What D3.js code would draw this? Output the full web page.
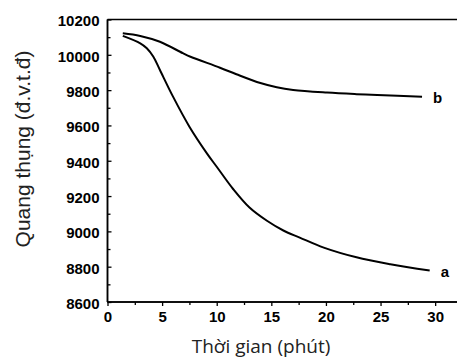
<!DOCTYPE html>
<html>
<head>
<meta charset="utf-8">
<script src="https://cdn.jsdelivr.net/npm/d3@7"></script>
<style>
  html, body { margin: 0; padding: 0; background: #fff; }
  svg { display: block; }
</style>
</head>
<body>
<svg id="chart" width="457" height="358"></svg>
<script>
// Time (minutes) and measured values for the two curves
const timeA = [1.4, 3.0, 3.6, 4.2, 4.8, 6.0, 7.5, 9.1, 10.0, 11.5, 13.0, 14.6, 16.1, 17.6, 19.8, 22.8, 25.9, 29.5];
const valuesA = [10107, 10065, 10037, 9989, 9914, 9763, 9593, 9442, 9366, 9240, 9135, 9060, 9005, 8965, 8908, 8853, 8814, 8778];
const timeB = [1.4, 3.0, 4.8, 6.9, 7.6, 10.3, 11.8, 14.0, 15.5, 17.0, 20.1, 22.8, 24.7, 28.8];
const valuesB = [10122, 10107, 10074, 10009, 9989, 9927, 9890, 9840, 9816, 9801, 9786, 9777, 9772, 9763];
const seriesNames = ["a", "b"];

const xTicks = [0, 5, 10, 15, 20, 25, 30];
const xMinorTicks = [2.5, 7.5, 12.5, 17.5, 22.5, 27.5];
const yTicks = [8600, 8800, 9000, 9200, 9400, 9600, 9800, 10000, 10200];
const yMinorTicks = [8700, 8900, 9100, 9300, 9500, 9700, 9900, 10100];

const xTitle = "Thời gian (phút)";
const yTitle = "Quang thụng (đ.v.t.đ)";

const svg = d3.select("#chart");
const plotLeft = 107.5, plotRight = 457, plotTop = 19.5, plotBottom = 302;

const x = d3.scaleLinear().domain([0, 32]).range([plotLeft, plotRight]);
const y = d3.scaleLinear().domain([8600, 10200]).range([plotBottom, plotTop]);

const tickFont = "'Liberation Sans', Arial, sans-serif";

// Frame: top border line
svg.append("line")
  .attr("x1", plotLeft).attr("x2", plotRight)
  .attr("y1", plotTop).attr("y2", plotTop)
  .attr("stroke", "#000").attr("stroke-width", 1.5);

// X axis
const xAxis = svg.append("g")
  .attr("transform", `translate(0,${plotBottom})`)
  .call(d3.axisBottom(x).tickValues(xTicks).tickSize(4).tickPadding(5).tickFormat(d3.format("d")));
xAxis.append("g")
  .call(d3.axisBottom(x).tickValues(xMinorTicks).tickSize(3).tickFormat(""));
xAxis.selectAll(".domain").attr("d", `M${plotLeft},0H${plotRight}`).attr("stroke-width", 1.5);

// Y axis (ticks point inward)
const yAxis = svg.append("g")
  .attr("transform", `translate(${plotLeft},0)`)
  .call(d3.axisLeft(y).tickValues(yTicks).tickSize(-4).tickPadding(8).tickFormat(d3.format("d")));
yAxis.append("g")
  .call(d3.axisLeft(y).tickValues(yMinorTicks).tickSize(-3).tickFormat(""));
yAxis.selectAll(".domain").attr("d", `M0,${plotTop}V${plotBottom}`).attr("stroke-width", 1.5);

svg.selectAll(".tick line").attr("stroke", "#000").attr("stroke-width", 1.3);
svg.selectAll(".tick text")
  .attr("font-family", tickFont)
  .attr("font-weight", "bold")
  .attr("font-size", 15)
  .attr("fill", "#000");
yAxis.selectAll(".tick text").attr("text-anchor", "end").attr("dy", "0.42em");

// Curves
const line = d3.line()
  .x(d => x(d[0]))
  .y(d => y(d[1]))
  .curve(d3.curveCatmullRom.alpha(0.5));

const dataA = d3.zip(timeA, valuesA);
const dataB = d3.zip(timeB, valuesB);

[dataA, dataB].forEach(data => {
  svg.append("path")
    .datum(data)
    .attr("d", line)
    .attr("fill", "none")
    .attr("stroke", "#000")
    .attr("stroke-width", 2);
});

// Curve labels at the line ends
[dataA, dataB].forEach((data, i) => {
  const last = data[data.length - 1];
  svg.append("text")
    .attr("x", x(last[0]) + 11)
    .attr("y", y(last[1]))
    .attr("dy", "0.4em")
    .attr("font-family", tickFont)
    .attr("font-weight", "bold")
    .attr("font-size", 15)
    .text(seriesNames[i]);
});

// Axis titles
svg.append("text")
  .attr("x", 261)
  .attr("y", 353)
  .attr("text-anchor", "middle")
  .attr("font-family", "'Open Sans', sans-serif")
  .attr("font-size", 19)
  .attr("fill", "#222")
  .text(xTitle);

svg.append("text")
  .attr("transform", `translate(30,149) rotate(-90)`)
  .attr("text-anchor", "middle")
  .attr("font-family", "'Liberation Sans', Arial, sans-serif")
  .attr("font-size", 21)
  .attr("fill", "#222")
  .text(yTitle);
</script>
</body>
</html>
